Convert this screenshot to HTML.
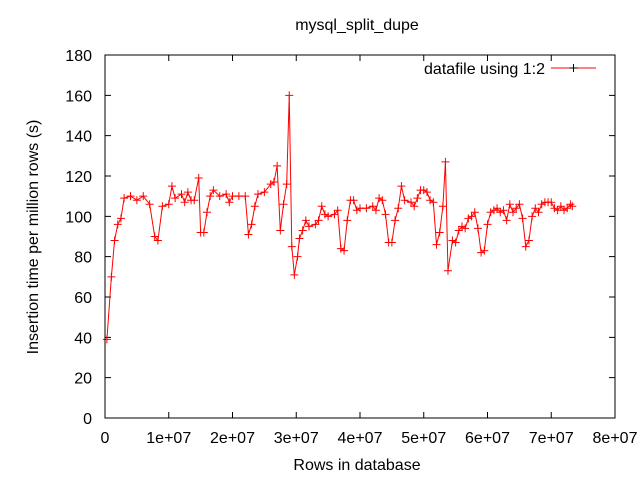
<!DOCTYPE html>
<html><head><meta charset="utf-8"><style>
body{margin:0;background:#fff}
svg{display:block;font-family:"Liberation Sans",sans-serif;font-size:16px}
</style></head><body>
<svg id="chart" width="640" height="480">
<rect width="640" height="480" fill="#fff"/>
<text x="357" y="30" text-anchor="middle">mysql_split_dupe</text>
<text x="357" y="470" text-anchor="middle">Rows in database</text>
<text transform="translate(38,237) rotate(-90)" text-anchor="middle">Insertion time per million rows (s)</text>
<g id="axes"></g>
<g id="series"></g>
<rect x="105" y="55" width="510" height="363" fill="none" stroke="#000" stroke-width="1"/>
<g>
<text x="545" y="74" text-anchor="end">datafile using 1:2</text>
<line x1="551" y1="68" x2="596" y2="68" stroke="#f00"/>
<path d="M573.5 64v8M569.5 68h8" stroke="#000"/>
</g>
</svg>
<script>
const xMillions=[0.3,1,1.5,2,2.5,3,4,5,6,7,7.8,8.3,9,10,10.5,11,12,12.5,13,13.5,14,14.7,15,15.5,16,16.5,17,18,19,19.5,20,21,22,22.5,23,23.5,24,25,26,26.5,27,27.5,28,28.5,28.9,29.3,29.7,30.2,30.5,31,31.5,32,33,33.5,34,34.5,35,36,36.5,37,37.5,38,38.5,39,39.5,40,41,42,42.5,43,43.5,44,44.5,45,45.5,46,46.5,47,48,48.5,49,49.5,50,50.5,51,51.5,52,52.5,53,53.4,53.8,54.5,55,55.5,56,56.5,57,57.5,58,58.5,59,59.5,60,60.5,61,61.5,62,62.5,63,63.5,64,64.5,65,65.5,66,66.5,67,67.5,68,68.5,69,69.5,70,70.5,71,71.5,72,72.5,73,73.3];
const seconds=[39,70,88,96,99,109,110,108,110,106,90,88,105,106,115,109,111,107,112,108,108,119,92,92,102,110,113,110,111,107,110,110,110,91,96,105,111,112,116,117,125,93,106,116,160,85,71,80,89,93,98,95,96,98,105,101,100,101,103,84,83,98,108,108,103,104,104,105,103,109,108,101,87,87,98,104,115,108,107,105,109,113,113,112,108,107,86,92,105,127,73,88,87,93,95,94,99,100,102,94,82,83,96,102,103,104,102,103,98,106,102,104,106,99,85,88,100,104,102,106,107,107,107,104,103,105,103,104,106,105];
const xTicks=[0,1e7,2e7,3e7,4e7,5e7,6e7,7e7,8e7];
const xTickLabels=["0","1e+07","2e+07","3e+07","4e+07","5e+07","6e+07","7e+07","8e+07"];
const yTicks=[0,20,40,60,80,100,120,140,160,180];
const NS="http://www.w3.org/2000/svg";
const X=v=>105+v/8e7*510;
const Y=v=>418-v/180*363;
const axes=document.getElementById('axes');
function mk(t,a,p){const e=document.createElementNS(NS,t);for(const k in a)e.setAttribute(k,a[k]);p.appendChild(e);return e;}
xTicks.forEach((t,i)=>{
  const x=X(t);
  const tk=mk('path',{d:`M${x} 418v-6M${x} 55v6`,stroke:'#000'},axes);
  
  
  const l=mk('text',{x:x,y:443,'text-anchor':'middle'},axes);l.textContent=xTickLabels[i];
  
  
});
yTicks.forEach(t=>{
  const y=Y(t);
  const tk=mk('path',{d:`M105 ${y}h6M615 ${y}h-6`,stroke:'#000'},axes);
  
  
  const l=mk('text',{x:92,y:y+6,'text-anchor':'end'},axes);l.textContent=String(t);
  
  
});
const s=document.getElementById('series');
const pts=xMillions.map((m,i)=>[X(m*1e6),Y(seconds[i])]);
const line=mk('polyline',{points:pts.map(p=>p.join(',')).join(' '),fill:'none',stroke:'#f00','stroke-width':1},s);


pts.forEach(p=>{
  const m=mk('path',{d:`M${p[0]-4} ${p[1]}h8M${p[0]} ${p[1]-4}v8`,stroke:'#f00'},s);
  
  
});
</script>
</body></html>
